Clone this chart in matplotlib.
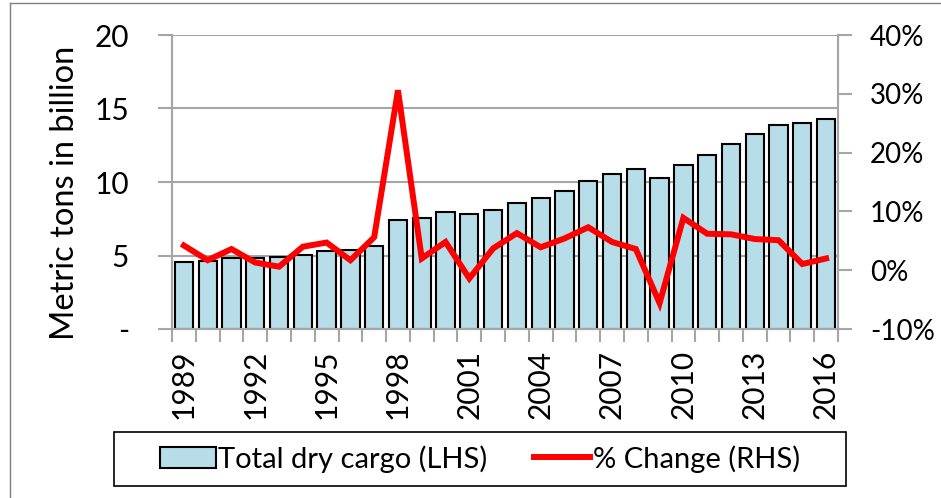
import numpy as np
import matplotlib
matplotlib.use("Agg")
import matplotlib.pyplot as plt
from matplotlib.patches import Rectangle, Patch
from matplotlib.lines import Line2D
from matplotlib.ticker import FixedLocator, FixedFormatter

plt.rcParams['font.family'] = ['Lato', 'DejaVu Sans']

# dados
anos = list(range(1989, 2017))
carga_seca = [4.54, 4.60, 4.81, 4.85, 4.88, 5.06, 5.28, 5.39, 5.67, 7.41,
              7.55, 7.94, 7.82, 8.10, 8.59, 8.93, 9.41, 10.07, 10.52, 10.90,
              10.27, 11.18, 11.86, 12.60, 13.24, 13.90, 14.01, 14.29]
variacao_pct = [4.2, 1.7, 3.6, 1.3, 0.6, 4.0, 4.7, 1.7, 5.6, 30.6,
                2.0, 4.8, -1.4, 3.7, 6.3, 3.9, 5.4, 7.3, 4.8, 3.6,
                -5.6, 8.9, 6.2, 6.1, 5.3, 5.1, 1.05, 2.0]
ticks_esq = [0, 5, 10, 15, 20]
rotulos_esq = ['-', '5', '10', '15', '20']
ticks_dir = [-10, 0, 10, 20, 30, 40]
rotulos_dir = ['-10%', '0%', '10%', '20%', '30%', '40%']

cinza = '#a6a6a6'
azul = '#b7dde8'
tam = 21.5

W, H = 941, 498
fig = plt.figure(figsize=(W / 100, H / 100), dpi=100)
ax = fig.add_axes([172 / W, 1 - 329 / H, 666 / W, 294 / H])
ax2 = ax.twinx()

x = np.arange(len(anos))
ax.bar(x, carga_seca, width=0.77, color=azul, edgecolor='black', linewidth=1.5, zorder=3)
ax.set_xlim(-0.5, len(anos) - 0.5)
ax.set_ylim(0, 20)
ax.yaxis.set_major_locator(FixedLocator(ticks_esq))
ax.yaxis.set_major_formatter(FixedFormatter(rotulos_esq))
ax.grid(axis='y', color=cinza, linewidth=1.5, zorder=0)
ax.set_axisbelow(True)

# rotulos do eixo x a cada 3 anos, marcas entre categorias
ax.xaxis.set_major_locator(FixedLocator(x[::3]))
ax.xaxis.set_major_formatter(FixedFormatter([str(a) for a in anos[::3]]))
ax.xaxis.set_minor_locator(FixedLocator(np.arange(-0.5, len(anos), 1.0)))
ax.tick_params(axis='x', which='major', length=0, pad=15, labelsize=tam, labelrotation=90)
ax.tick_params(axis='x', which='minor', length=9, width=1.5, color=cinza)
ax.tick_params(axis='y', length=10, width=1.5, color=cinza, pad=21, labelsize=tam)

ax2.plot(x, variacao_pct, color='#ff0000', linewidth=4.3, zorder=4, solid_joinstyle='miter')
ax2.set_ylim(-10, 40)
ax2.yaxis.set_major_locator(FixedLocator(ticks_dir))
ax2.yaxis.set_major_formatter(FixedFormatter(rotulos_dir))
ax2.tick_params(axis='y', length=10, width=1.5, color=cinza, pad=13, labelsize=20)

for a in (ax, ax2):
    a.spines['top'].set_visible(False)
    for s in ('left', 'right', 'bottom'):
        a.spines[s].set_color(cinza)
        a.spines[s].set_linewidth(1.5)

ax.set_ylabel('Metric tons in billion', fontsize=23.5)
ax.yaxis.set_label_coords(-0.138, 0.464)

# legenda com caixa propria
fig.add_artist(Rectangle((114 / W, 1 - 486 / H), 732 / W, 54 / H, transform=fig.transFigure,
                         facecolor='white', edgecolor='black', linewidth=1.2))
alcas = [Patch(facecolor=azul, edgecolor='black', linewidth=1.5),
         Line2D([], [], color='#ff0000', linewidth=4.3)]
fig.legend(alcas, ['Total dry cargo (LHS)', '% Change (RHS)'], ncol=2, frameon=False,
           loc='center', bbox_to_anchor=(480 / W, 1 - 459 / H), fontsize=21,
           handlelength=1.9, handleheight=0.75, handletextpad=0.1, columnspacing=1.6)

# borda externa
fig.add_artist(Line2D([10 / W, 10 / W], [0, 1 - 3 / H], transform=fig.transFigure, color='#7f7f7f', linewidth=1))
fig.add_artist(Line2D([10 / W, 1], [1 - 3 / H, 1 - 3 / H], transform=fig.transFigure, color='#7f7f7f', linewidth=1))

fig.savefig('out.png', dpi=100)
